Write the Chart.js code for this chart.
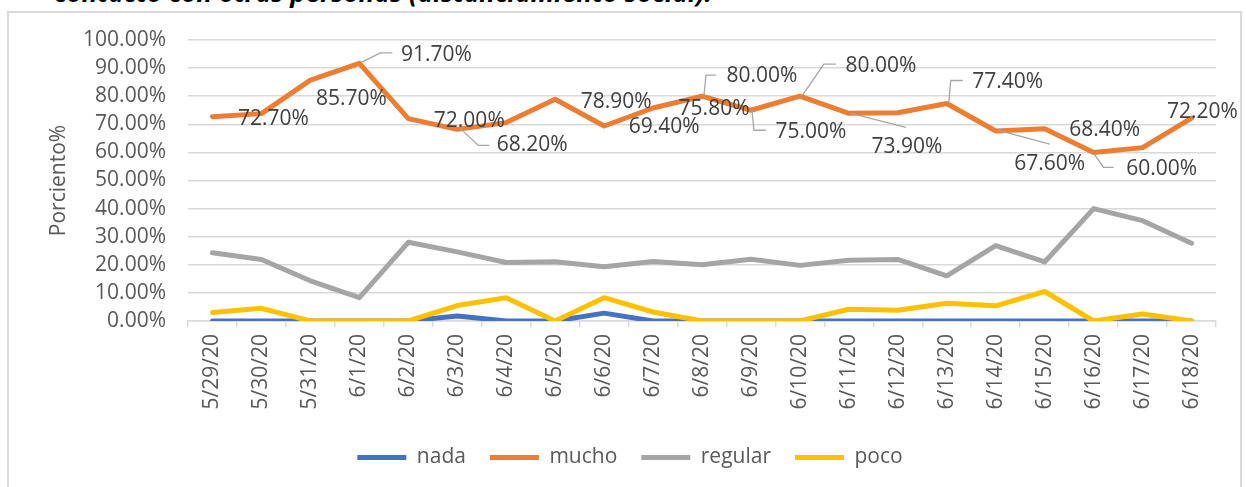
<!DOCTYPE html>
<html><head><meta charset="utf-8">
<script src="https://cdn.jsdelivr.net/npm/chart.js@4.4.0/dist/chart.umd.min.js"></script>
<style>
html,body{margin:0;padding:0;background:#fff;width:1246px;height:487px;overflow:hidden;}
#frame{position:absolute;left:7px;top:11px;width:1235px;height:500px;border:2px solid #d9d9d9;box-sizing:border-box;}
#title{position:absolute;top:-21px;left:0;width:712px;text-align:right;white-space:nowrap;font:italic bold 26px "Open Sans";line-height:26px;color:#000;}
#wrap{position:absolute;left:0;top:0;width:1246px;height:487px;}
</style></head><body>
<div id="title">contacto con otras personas (distanciamiento social):</div>
<div id="frame"></div>
<div id="wrap"><canvas id="c" width="1246" height="487"></canvas></div>
<script>
const categories = ['5/29/20','5/30/20','5/31/20','6/1/20','6/2/20','6/3/20','6/4/20','6/5/20','6/6/20','6/7/20','6/8/20','6/9/20','6/10/20','6/11/20','6/12/20','6/13/20','6/14/20','6/15/20','6/16/20','6/17/20','6/18/20'];
const nada    = [0,0,0,0,0,1.8,0,0,2.8,0,0,0,0,0,0,0,0,0,0,0,0];
const mucho   = [72.7,73.8,85.7,91.7,72.0,68.2,70.6,78.9,69.4,75.8,80.0,75.0,80.0,73.9,74.1,77.4,67.6,68.4,60.0,61.7,72.2];
const regular = [24.3,21.9,14.3,8.3,28.0,24.6,20.8,21.1,19.3,21.2,20.0,22.0,19.8,21.6,21.9,16.1,26.8,21.0,40.0,35.7,27.7];
const poco    = [3.0,4.5,0,0,0,5.5,8.3,0,8.3,3.2,0,0,0,4.2,3.8,6.3,5.4,10.5,0,2.5,0];
const yTickValues = [0,10,20,30,40,50,60,70,80,90,100];

// label placement for the "mucho" data labels (offsets from the point, leader line vertices)
const labelPlacement = [
  {dx:61,dy:2}, null, {dx:41,dy:19},
  {dx:77,dy:-8, leader:[[2,-1],[21,-10.5],[33,-10.5]]},
  {dx:61,dy:2},
  {dx:75,dy:16, leader:[[4,0],[21,16],[32,16]]},
  null,
  {dx:61,dy:3}, {dx:60,dy:1}, {dx:61,dy:1},
  {dx:60,dy:-20, leader:[[2,-1],[4,-21],[14,-21]]},
  {dx:60,dy:22, leader:[[1,0],[3,20],[15,20]]},
  {dx:81,dy:-30, leader:[[2,0],[24,-32],[36,-32]]},
  {dx:58,dy:34, leader:[[2,0],[57,14]]},
  null,
  {dx:61,dy:-21, leader:[[2,-1],[4,-23],[16,-23]]},
  {dx:54,dy:33, leader:[[2,-1],[54,13]]},
  {dx:60,dy:1},
  {dx:68,dy:17, leader:[[0,1],[10,15],[20,15]]},
  null,
  {dx:11,dy:-6}
];

const FONT = 'Open Sans';
Chart.defaults.font.family = FONT;

const labelPlugin = {
  id: 'muchoLabels',
  afterDatasetsDraw(chart) {
    const ctx = chart.ctx;
    const idx = chart.data.datasets.findIndex(d => d.label === 'mucho');
    const meta = chart.getDatasetMeta(idx);
    ctx.save();
    ctx.font = '21px "' + FONT + '"';
    ctx.fillStyle = '#404040';
    ctx.textAlign = 'center';
    ctx.textBaseline = 'middle';
    ctx.strokeStyle = '#a6a6a6';
    ctx.lineWidth = 1.3;
    meta.data.forEach((pt, i) => {
      const p = labelPlacement[i];
      if (!p) return;
      if (p.leader) {
        ctx.beginPath();
        p.leader.forEach((v, k) => { k === 0 ? ctx.moveTo(pt.x + v[0], pt.y + v[1]) : ctx.lineTo(pt.x + v[0], pt.y + v[1]); });
        ctx.stroke();
      }
      ctx.fillText(mucho[i].toFixed(2) + '%', pt.x + p.dx, pt.y + p.dy);
    });
    ctx.restore();
  }
};

const legendShift = {
  id: 'legendShift',
  afterLayout(chart) {
    const l = chart.legend;
    if (l) { l.left += 17; l.right += 17; }
  }
};

const lineDs = (label, data, color) => ({
  label, data, borderColor: color, backgroundColor: color,
  borderWidth: 5, pointRadius: 0, pointHoverRadius: 0, tension: 0,
  borderCapStyle: 'round', borderJoinStyle: 'round', fill: false
});

new Chart(document.getElementById('c'), {
  type: 'line',
  data: {
    labels: categories,
    datasets: [
      lineDs('poco', poco, '#FFC000'),
      lineDs('regular', regular, '#A5A5A5'),
      lineDs('mucho', mucho, '#ED7D31'),
      lineDs('nada', nada, '#4472C4')
    ]
  },
  options: {
    responsive: false,
    animation: false,
    devicePixelRatio: 1,
    layout: { padding: { left: 10, top: 40, right: 30, bottom: 9 } },
    plugins: {
      legend: {
        position: 'bottom',
        reverse: true,
        labels: {
          usePointStyle: true, pointStyle: 'line', pointStyleWidth: 49,
          font: { size: 21, family: FONT }, color: '#595959', padding: 24
        }
      },
      tooltip: { enabled: false }
    },
    scales: {
      x: {
        offset: true,
        grid: { offset: true, drawOnChartArea: false, drawTicks: true, tickLength: 6, color: '#d9d9d9', lineWidth: 1.5 },
        border: { display: true, color: '#d9d9d9', width: 1.5 },
        ticks: { minRotation: 90, maxRotation: 90, autoSkip: false, padding: 7, color: '#595959', font: { size: 21, family: FONT } },
        afterFit(s) { s.height = 102; }
      },
      y: {
        min: 0, max: 100,
        afterBuildTicks(s) { s.ticks = yTickValues.map(v => ({ value: v })); },
        grid: { drawTicks: false, color: '#d9d9d9', lineWidth: 1.5 },
        border: { display: false },
        ticks: { autoSkip: false, padding: 22, color: '#595959', font: { size: 21, family: FONT }, callback: v => v.toFixed(2) + '%' },
        title: { display: true, text: 'Porciento%', color: '#595959', font: { size: 21, family: FONT }, padding: { top: 36, bottom: 0 } },
        afterFit(s) { s.width = 178; }
      }
    }
  },
  plugins: [labelPlugin, legendShift]
});
</script>
</body></html>
